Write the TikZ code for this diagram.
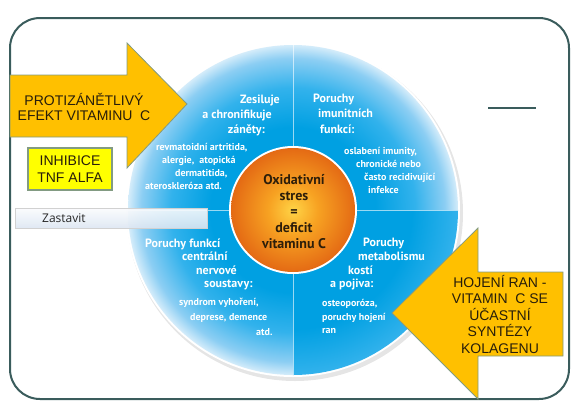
\documentclass[tikz,border=0pt]{standalone}
\usepackage{fontspec}
\setmainfont{Liberation Sans}
\newfontfamily\wheelfont{PT Sans}
\newfontfamily\barfont{Open Sans}
\usetikzlibrary{calc}

\definecolor{framegray}{RGB}{58,92,92}
\definecolor{arrowgold}{RGB}{255,192,0}
\definecolor{arrowedge}{RGB}{130,155,130}
\definecolor{tnfyellow}{RGB}{255,255,0}
\definecolor{wheeldeep}{RGB}{0,160,226}
\definecolor{wheelmid}{RGB}{50,178,236}
\definecolor{wheellite}{RGB}{140,206,243}
\definecolor{wheelpale}{RGB}{212,236,250}
\definecolor{orangein}{RGB}{255,212,70}
\definecolor{orangemid}{RGB}{247,162,34}
\definecolor{orangeout}{RGB}{228,106,20}
\definecolor{stresbrown}{RGB}{45,30,10}
\definecolor{arrowink}{RGB}{40,30,10}
\definecolor{bartop}{RGB}{250,251,253}
\definecolor{barbottom}{RGB}{220,230,242}

% the path's box is 25bp from the middle
\pgfdeclareradialshading{wheellight}{\pgfpoint{0bp}{0bp}}{color(0bp)=(wheeldeep); color(12.5bp)=(wheeldeep); color(18.5bp)=(wheelmid); color(23bp)=(wheellite); color(25bp)=(wheelpale); color(50bp)=(wheelpale)}
\pgfdeclareradialshading{wheeldark}{\pgfpoint{0bp}{0bp}}{color(0bp)=(wheeldeep); color(18bp)=(wheeldeep); color(25bp)=(wheelmid); color(50bp)=(wheelmid)}
\pgfdeclareradialshading{oxball}{\pgfpoint{0bp}{0bp}}{color(0bp)=(orangein); color(10bp)=(orangemid); color(25bp)=(orangeout); color(50bp)=(orangeout)}

\begin{document}
\begin{tikzpicture}[x=1pt,y=-1pt]
\tikzset{
    head/.style={
       font=\wheelfont\bfseries\fontsize{12}{14}\selectfont,
       text=white, inner sep=0pt
    },
    small/.style={
       font=\wheelfont\bfseries\fontsize{10}{12}\selectfont,
       text=white, inner sep=0pt
    },
    oxtext/.style={
       font=\wheelfont\bfseries\fontsize{14}{16}\selectfont,
       text=stresbrown, inner sep=0pt, anchor=base
    },
    arrowtext/.style={
       font=\fontsize{14}{16}\selectfont,
       text=arrowink, inner sep=0pt, anchor=base
    },
    bigarrow/.style={
       fill=arrowgold, draw=arrowedge, line width=0.8pt
    }
}
%
\useasboundingbox (0,0) rectangle (576,405);
\draw[framegray, line width=2pt, rounded corners=30pt] (10,18) rectangle (569,399);

% wheel
\coordinate (wc) at (293,210);
\fill[black!10] (295,213) circle (168);
\fill[white] (wc) circle (167);
\foreach \a/\s in {0/wheeldark,90/wheellight,180/wheellight,270/wheellight}{
  \begin{scope}
    \clip (wc) -- ++(\a:165) arc (\a:\a+90:165) -- cycle;
    \shade[shading=\s] (wc) circle (165);
  \end{scope}
}
\draw[white, opacity=0.6, line width=0.8pt] ($(wc)+(-165,0)$) -- ($(wc)+(165,0)$);
\draw[white, opacity=0.6, line width=0.8pt] ($(wc)+(0,-165)$) -- ($(wc)+(0,165)$);
\fill[white] (wc) circle (64);
\shade[shading=oxball] (wc) circle (62);

% quadrant texts
\foreach \x/\y/\t [count=\i] in {280/103/Zesiluje, 272/118/a chronifikuje, 265/133/{záněty:}}
  \node[head, anchor=base east] (ulh\i) at (\x,\y) {\t};
\foreach \x/\y/\t [count=\i] in {156/150.5/{revmatoidní artritida,}, 162/163.5/{alergie,\ \ atopická},
    175/176.5/{dermatitida,}, 145/189.5/ateroskleróza atd.}
  \node[small, anchor=base west] (uls\i) at (\x,\y) {\t};
\foreach \x/\y/\t [count=\i] in {313/102/Poruchy, 318/117.5/imunitních, 320/133/{funkcí:}}
  \node[head, anchor=base west] (urh\i) at (\x,\y) {\t};
\foreach \x/\y/\t [count=\i] in {344/154.5/{oslabení imunity,}, 356/167.5/chronické nebo,
    364/180.5/často recidivující, 368/193.5/infekce}
  \node[small, anchor=base west] (urs\i) at (\x,\y) {\t};
\foreach \x/\y/\t [count=\i] in {145/247/Poruchy funkcí, 182/260.5/centrální, 196/274/nervové, 204/287.5/{soustavy:}}
  \node[head, anchor=base west] (llh\i) at (\x,\y) {\t};
\foreach \x/\y/\t [count=\i] in {179/305.5/{syndrom vyhoření,}, 190/320.5/{deprese, demence}, 256/335.5/atd.}
  \node[small, anchor=base west] (lls\i) at (\x,\y) {\t};
\foreach \x/\y/\t [count=\i] in {363/246/Poruchy, 358/260/metabolismu, 348/274/kostí, 330/287.5/{a pojiva:}}
  \node[head, anchor=base west] (lrh\i) at (\x,\y) {\t};
\foreach \x/\y/\t [count=\i] in {322/306.5/{osteoporóza,}, 322/320.5/poruchy hojení, 322/333.5/ran}
  \node[small, anchor=base west] (lrs\i) at (\x,\y) {\t};

% center
\foreach \y/\t [count=\i] in {184/Oxidativní, 200/stres, 216/=, 232/deficit, 248/vitaminu C}
  \node[oxtext] (ox\i) at (294,\y) {\t};

% arrows
\draw[bigarrow] (10,75) -- (127,75) -- (127,43) -- (187,104) -- (127,168) -- (127,137) -- (10,137) -- cycle;
\node[arrowtext] (protiA) at (84,105) {PROTIZÁNĚTLIVÝ};
\node[arrowtext] (protiB) at (84,120) {EFEKT VITAMINU\hspace{0.55em}C};

\draw[bigarrow] (563,272) -- (478,272) -- (478,228) -- (392,313) -- (478,399) -- (478,356) -- (563,356) -- cycle;
\foreach \y/\t [count=\i] in {287/HOJENÍ RAN -, 303.5/VITAMIN\hspace{0.55em}C SE, 320/ÚČASTNÍ, 336.5/SYNTÉZY, 353/KOLAGENU}
  \node[arrowtext] (hoj\i) at (500,\y) {\t};

\node[draw=arrowedge, fill=tnfyellow, line width=1.5pt, minimum width=84, minimum height=42,
      inner sep=0pt, align=center, font=\fontsize{14}{17}\selectfont, text=arrowink] (tnf) at (70,169) {INHIBICE\\TNF ALFA};

% stop bar
\node[top color=bartop, bottom color=barbottom, draw=black!18, fill opacity=0.9, line width=0.5pt,
      minimum width=192, minimum height=20, anchor=north west, inner sep=0pt] (zbar) at (15,208) {};
\node[anchor=base west, inner sep=0pt, font=\barfont\fontsize{12}{14}\selectfont, text=black!85] (zlabel) at (42,222) {Zastavit};

\draw[framegray, line width=1.5pt] (488,108) -- (536,108);
\end{tikzpicture}
\end{document}
